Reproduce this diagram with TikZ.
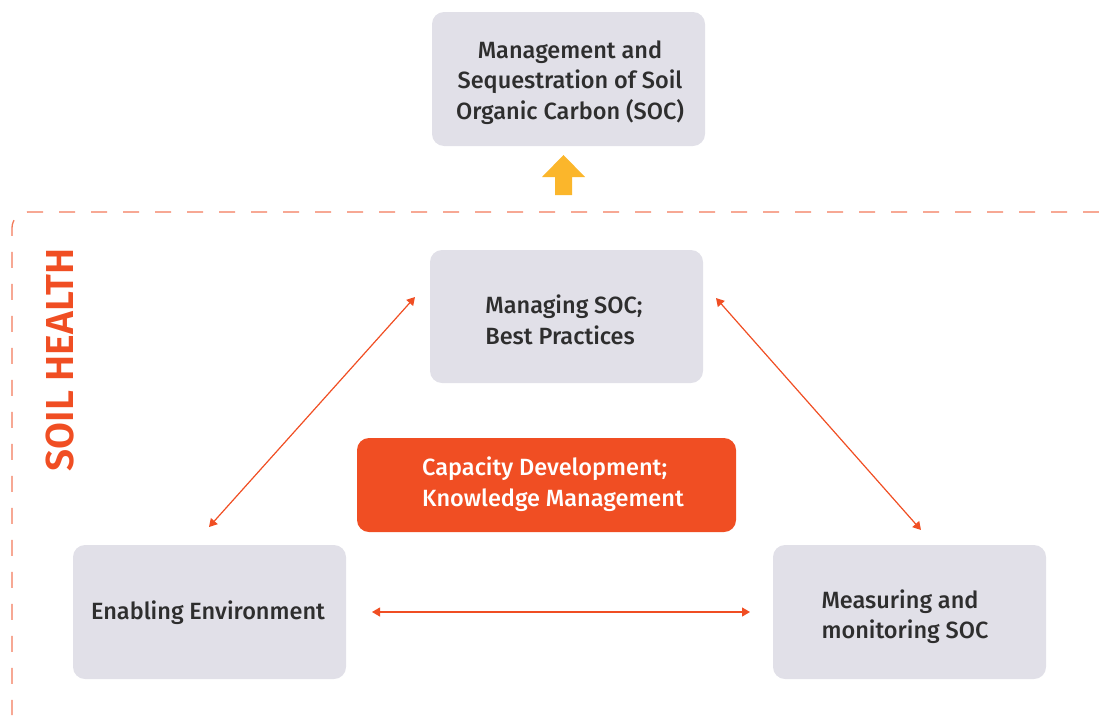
\documentclass[tikz,border=0pt]{standalone}
\usepackage{fontspec}
\setmainfont{Fira Sans}[UprightFont=* Medium, BoldFont=* SemiBold]
\usetikzlibrary{arrows.meta}
\definecolor{boxgray}{HTML}{E1E0E8}
\definecolor{soilorange}{HTML}{F04E23}
\definecolor{dashorange}{HTML}{F27A5A}
\definecolor{arrowyellow}{HTML}{FBB62B}
\definecolor{textgray}{HTML}{2E2E2E}
\begin{document}
\begin{tikzpicture}[x=1pt,y=-1pt,
  gbox/.style={fill=boxgray, rounded corners=12pt, inner sep=0pt},
  boxtext/.style={text=textgray, font=\fontsize{23.5}{30.5}\selectfont, align=left},
  link/.style={draw=soilorange, line width=1.2pt, {Triangle[length=8pt,width=9pt]}-{Triangle[length=8pt,width=9pt]}}]
\useasboundingbox (0,0) rectangle (1099,715);

% dashed soil health frame
\draw[dashorange, line width=1.3pt, dash pattern=on 16pt off 16pt, rounded corners=16pt]
  (1099,212) -- (12,212) -- (12,715);
\node[rotate=90, text=soilorange, font=\fontsize{39}{42}\bfseries\selectfont] (soil) at (60,360) {SOIL HEALTH};

% boxes
\fill[gbox] (432,12) rectangle (705,146);
\node[boxtext, align=center] (goal) at (570,82.5) {Management and\\Sequestration of Soil\\Organic Carbon (SOC)};

\fill[gbox] (430,250) rectangle (703,383);
\node[boxtext] (manage) at (564,320) {Managing SOC;\\Best Practices};

\fill[soilorange, rounded corners=12pt] (357,438) rectangle (736,532);
\node[boxtext, text=white] (capacity) at (553,484) {Capacity Development;\\Knowledge Management};

\fill[gbox] (73,545) rectangle (346,679);
\node[boxtext] (enable) at (208,613) {Enabling Environment};

\fill[gbox] (773,545) rectangle (1046,679);
\node[boxtext] (measure) at (905,616.5) {Measuring and\\monitoring SOC};

% upward arrow
\fill[arrowyellow] (555,195) -- (555,177) -- (542,177) -- (563.5,155) -- (585,177) -- (572,177) -- (572,195) -- cycle;

% links
\coordinate (m1) at (415,297);
\coordinate (e1) at (209,527);
\coordinate (m2) at (716,298);
\coordinate (s1) at (921,530);
\coordinate (e2) at (372,612);
\coordinate (s2) at (750,612);
\draw[link] (m1) -- (e1);
\draw[link] (m2) -- (s1);
\draw[link] (e2) -- (s2);
\end{tikzpicture}
\end{document}
